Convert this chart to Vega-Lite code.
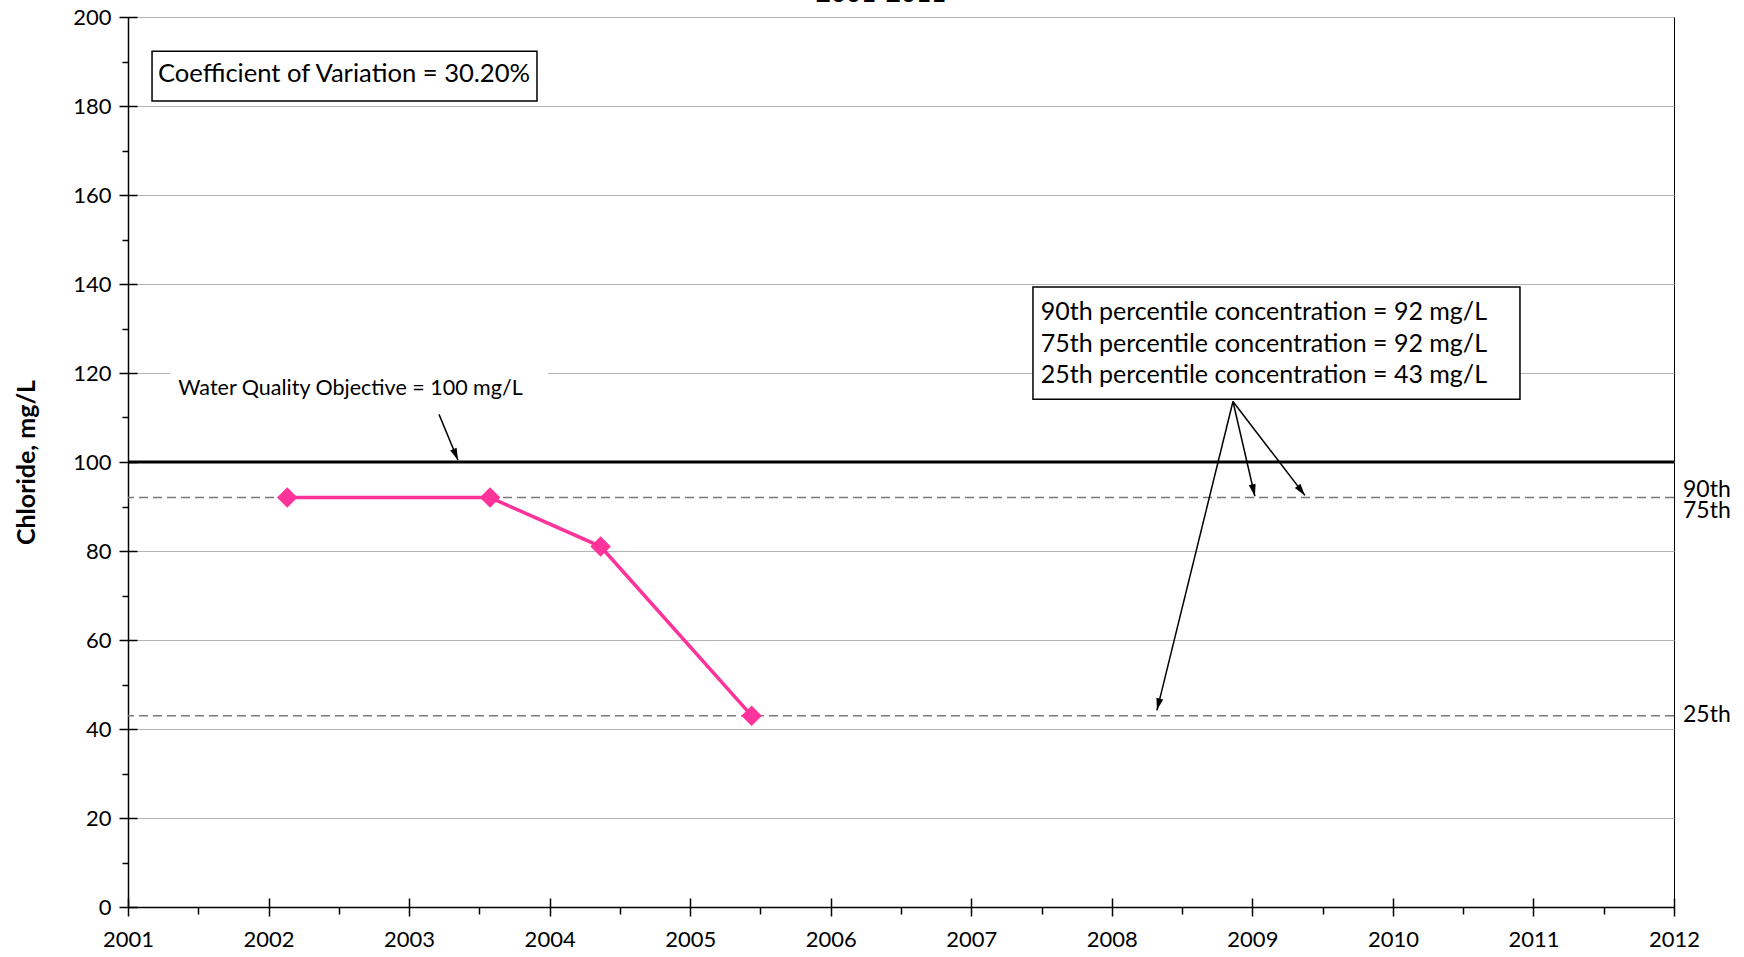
{
  "$schema": "https://vega.github.io/schema/vega-lite/v6.json",
  "width": 1546,
  "height": 890,
  "autosize": {"type": "none"},
  "padding": {"left": 128, "top": 17, "right": 70, "bottom": 50},
  "background": "white",
  "config": {
    "font": "Lato",
    "view": {"stroke": "black", "strokeWidth": 1},
    "axis": {"labelColor": "black", "titleColor": "black", "tickColor": "black", "domainColor": "black"}
  },
  "title": {"text": "2001-2011", "fontSize": 26, "fontWeight": "bold", "color": "black", "anchor": "middle", "dx": -20, "dy": 22, "offset": 0, "baseline": "alphabetic"},
  "datasets": {
    "samples": [
      {"year": 2002.133, "chloride": 92},
      {"year": 2003.576, "chloride": 92},
      {"year": 2004.363, "chloride": 81},
      {"year": 2005.437, "chloride": 43}
    ],
    "percentiles": [
      {"label": "90th/75th percentile", "value": 92},
      {"label": "25th percentile", "value": 43}
    ],
    "objective": [{"label": "Water Quality Objective", "value": 100}],
    "sideLabels": [
      {"label": "90th", "x": 2012.064, "y": 93.6},
      {"label": "75th", "x": 2012.064, "y": 89.0},
      {"label": "25th", "x": 2012.064, "y": 43.1}
    ],
    "boxes": [
      {"x0": 2001.171, "x1": 2003.91, "y0": 181.1, "y1": 192.3},
      {"x0": 2007.439, "x1": 2010.904, "y0": 114.1, "y1": 139.3}
    ],
    "mask": [{"x0": 2001.299, "x1": 2003.986, "y0": 112, "y1": 126}],
    "notes": [
      {"text": "90th percentile concentration = 92 mg/L", "x": 2007.494, "y": 133.6},
      {"text": "75th percentile concentration = 92 mg/L", "x": 2007.494, "y": 126.6},
      {"text": "25th percentile concentration = 43 mg/L", "x": 2007.494, "y": 119.6}
    ],
    "cvNote": [
      {"text": "Coefficient of Variation = 30.20%", "x": 2001.213, "y": 187.2}
    ],
    "objectiveNote": [
      {"text": "Water Quality Objective = 100 mg/L", "x": 2001.358, "y": 116.3}
    ],
    "arrows": [
      {"id": "wqo", "x0": 2003.213, "y0": 110.7, "x1": 2003.348, "y1": 100.4},
      {"id": "p25", "x0": 2008.862, "y0": 113.6, "x1": 2008.321, "y1": 44.2},
      {"id": "p90", "x0": 2008.862, "y0": 113.6, "x1": 2009.018, "y1": 92.3},
      {"id": "p75", "x0": 2008.862, "y0": 113.6, "x1": 2009.374, "y1": 92.5}
    ]
  },
  "layer": [
    {
      "data": {"name": "percentiles"},
      "mark": {"type": "rule", "color": "#7a7a7a", "strokeWidth": 1.5, "strokeDash": [9, 5]},
      "encoding": {
        "y": {"field": "value", "type": "quantitative", "scale": {"domain": [0, 200], "nice": false, "zero": true},
          "axis": {"orient": "left", "title": "Chloride, mg/L", "values": [0, 20, 40, 60, 80, 100, 120, 140, 160, 180, 200],
            "grid": true, "gridColor": "#b3b3b3", "gridWidth": 1, "tickSize": 9, "tickWidth": 1.5, "domainWidth": 1.5,
            "labelFontSize": 22, "labelPadding": 8, "titleFontSize": 25, "titleFontWeight": "bold", "titlePadding": 33}}
      }
    },
    {
      "data": {"name": "objective"},
      "mark": {"type": "rule", "color": "black", "strokeWidth": 3},
      "encoding": {
        "y": {"field": "value", "type": "quantitative", "scale": {"domain": [0, 200], "nice": false, "zero": true},
          "axis": {"orient": "left", "title": null, "values": [0, 20, 40, 60, 80, 100, 120, 140, 160, 180, 200],
            "grid": false, "labels": false, "domain": false, "tickSize": -9, "tickWidth": 1.5}}
      }
    },
    {
      "data": {"name": "mask"},
      "mark": {"type": "rect", "fill": "white", "stroke": null},
      "encoding": {
        "x": {"field": "x0", "type": "quantitative", "scale": {"domain": [2001, 2012], "nice": false, "zero": false}, "axis": null},
        "x2": {"field": "x1"},
        "y": {"field": "y0", "type": "quantitative", "scale": {"domain": [0, 200], "nice": false}, "axis": null},
        "y2": {"field": "y1"}
      }
    },
    {
      "data": {"name": "samples"},
      "mark": {"type": "line", "color": "#ff3399", "strokeWidth": 3.5},
      "encoding": {
        "x": {"field": "year", "type": "quantitative", "scale": {"domain": [2001, 2012], "nice": false, "zero": false},
          "axis": {"orient": "bottom", "title": null, "values": [2001, 2002, 2003, 2004, 2005, 2006, 2007, 2008, 2009, 2010, 2011, 2012],
            "format": "d", "grid": false, "labelFlush": false, "labelOverlap": false, "tickSize": 9, "tickWidth": 1.5, "domainWidth": 1.5, "labelFontSize": 22, "labelPadding": 13}},
        "y": {"field": "chloride", "type": "quantitative", "scale": {"domain": [0, 200], "nice": false}, "axis": null}
      }
    },
    {
      "data": {"name": "samples"},
      "mark": {"type": "point", "shape": "diamond", "filled": true, "color": "#ff3399", "size": 420, "opacity": 1},
      "encoding": {
        "x": {"field": "year", "type": "quantitative", "scale": {"domain": [2001, 2012], "nice": false, "zero": false},
          "axis": {"orient": "bottom", "title": null, "values": [2001, 2002, 2003, 2004, 2005, 2006, 2007, 2008, 2009, 2010, 2011, 2012],
            "labels": false, "domain": false, "grid": false, "tickSize": -9, "tickWidth": 1.5}},
        "y": {"field": "chloride", "type": "quantitative", "scale": {"domain": [0, 200], "nice": false},
          "axis": {"orient": "left", "title": null, "values": [10, 30, 50, 70, 90, 110, 130, 150, 170, 190],
            "labels": false, "domain": false, "grid": false, "tickSize": 6, "tickWidth": 1.5}}
      }
    },
    {
      "data": {"name": "boxes"},
      "mark": {"type": "rect", "fill": "white", "stroke": "black", "strokeWidth": 1.5},
      "encoding": {
        "x": {"field": "x0", "type": "quantitative", "scale": {"domain": [2001, 2012], "nice": false, "zero": false},
          "axis": {"orient": "bottom", "title": null, "values": [2001.5, 2002.5, 2003.5, 2004.5, 2005.5, 2006.5, 2007.5, 2008.5, 2009.5, 2010.5, 2011.5],
            "labels": false, "domain": false, "grid": false, "tickSize": 7, "tickWidth": 1.5}},
        "x2": {"field": "x1"},
        "y": {"field": "y0", "type": "quantitative", "scale": {"domain": [0, 200], "nice": false}, "axis": null},
        "y2": {"field": "y1"}
      }
    },
    {
      "data": {"name": "notes"},
      "mark": {"type": "text", "align": "left", "baseline": "middle", "fontSize": 25, "color": "black"},
      "encoding": {
        "x": {"field": "x", "type": "quantitative", "scale": {"domain": [2001, 2012], "nice": false, "zero": false}, "axis": null},
        "y": {"field": "y", "type": "quantitative", "scale": {"domain": [0, 200], "nice": false}, "axis": null},
        "text": {"field": "text"}
      }
    },
    {
      "data": {"name": "cvNote"},
      "mark": {"type": "text", "align": "left", "baseline": "middle", "fontSize": 25.6, "color": "black"},
      "encoding": {
        "x": {"field": "x", "type": "quantitative", "scale": {"domain": [2001, 2012], "nice": false, "zero": false}, "axis": null},
        "y": {"field": "y", "type": "quantitative", "scale": {"domain": [0, 200], "nice": false}, "axis": null},
        "text": {"field": "text"}
      }
    },
    {
      "data": {"name": "objectiveNote"},
      "mark": {"type": "text", "align": "left", "baseline": "middle", "fontSize": 21.5, "color": "black"},
      "encoding": {
        "x": {"field": "x", "type": "quantitative", "scale": {"domain": [2001, 2012], "nice": false, "zero": false}, "axis": null},
        "y": {"field": "y", "type": "quantitative", "scale": {"domain": [0, 200], "nice": false}, "axis": null},
        "text": {"field": "text"}
      }
    },
    {
      "data": {"name": "sideLabels"},
      "mark": {"type": "text", "align": "left", "baseline": "middle", "fontSize": 23, "color": "black"},
      "encoding": {
        "x": {"field": "x", "type": "quantitative", "scale": {"domain": [2001, 2012], "nice": false, "zero": false}, "axis": null},
        "y": {"field": "y", "type": "quantitative", "scale": {"domain": [0, 200], "nice": false}, "axis": null},
        "text": {"field": "label"}
      }
    },
    {
      "data": {"name": "arrows"},
      "mark": {"type": "rule", "color": "black", "strokeWidth": 1.5},
      "encoding": {
        "x": {"field": "x0", "type": "quantitative", "scale": {"domain": [2001, 2012], "nice": false, "zero": false}, "axis": null},
        "x2": {"field": "x1"},
        "y": {"field": "y0", "type": "quantitative", "scale": {"domain": [0, 200], "nice": false}, "axis": null},
        "y2": {"field": "y1"}
      }
    },
    {
      "data": {"name": "arrows"},
      "transform": [{"filter": "datum.id === 'wqo'"}],
      "mark": {"type": "point", "filled": true, "color": "black", "opacity": 1, "shape": "M0,0L-0.35,1.2L0.35,1.2Z", "size": 400, "angle": 157.5},
      "encoding": {
        "x": {"field": "x1", "type": "quantitative", "scale": {"domain": [2001, 2012], "nice": false, "zero": false}, "axis": null},
        "y": {"field": "y1", "type": "quantitative", "scale": {"domain": [0, 200], "nice": false}, "axis": null}
      }
    },
    {
      "data": {"name": "arrows"},
      "transform": [{"filter": "datum.id === 'p25'"}],
      "mark": {"type": "point", "filled": true, "color": "black", "opacity": 1, "shape": "M0,0L-0.35,1.2L0.35,1.2Z", "size": 400, "angle": 193.8},
      "encoding": {
        "x": {"field": "x1", "type": "quantitative", "scale": {"domain": [2001, 2012], "nice": false, "zero": false}, "axis": null},
        "y": {"field": "y1", "type": "quantitative", "scale": {"domain": [0, 200], "nice": false}, "axis": null}
      }
    },
    {
      "data": {"name": "arrows"},
      "transform": [{"filter": "datum.id === 'p90'"}],
      "mark": {"type": "point", "filled": true, "color": "black", "opacity": 1, "shape": "M0,0L-0.35,1.2L0.35,1.2Z", "size": 400, "angle": 167},
      "encoding": {
        "x": {"field": "x1", "type": "quantitative", "scale": {"domain": [2001, 2012], "nice": false, "zero": false}, "axis": null},
        "y": {"field": "y1", "type": "quantitative", "scale": {"domain": [0, 200], "nice": false}, "axis": null}
      }
    },
    {
      "data": {"name": "arrows"},
      "transform": [{"filter": "datum.id === 'p75'"}],
      "mark": {"type": "point", "filled": true, "color": "black", "opacity": 1, "shape": "M0,0L-0.35,1.2L0.35,1.2Z", "size": 400, "angle": 142.5},
      "encoding": {
        "x": {"field": "x1", "type": "quantitative", "scale": {"domain": [2001, 2012], "nice": false, "zero": false}, "axis": null},
        "y": {"field": "y1", "type": "quantitative", "scale": {"domain": [0, 200], "nice": false}, "axis": null}
      }
    }
  ],
  "resolve": {"axis": {"x": "independent", "y": "independent"}}
}
